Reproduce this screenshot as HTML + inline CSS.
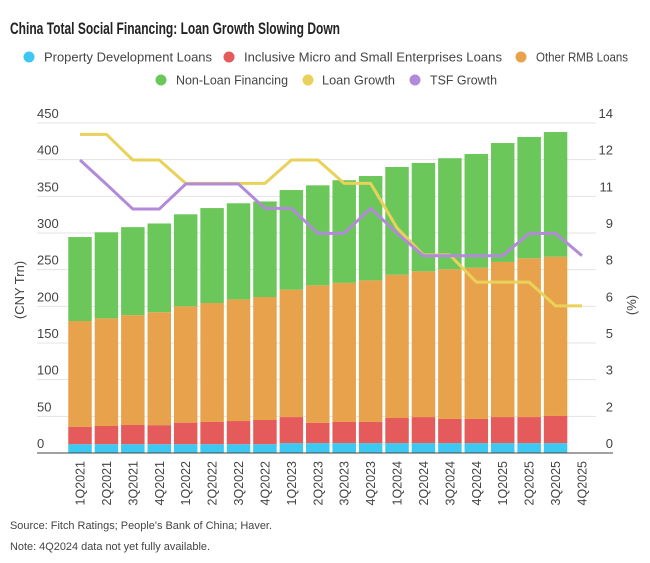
<!DOCTYPE html>
<html><head><meta charset="utf-8"><style>
html,body{margin:0;padding:0;background:#fff;}
svg{display:block;font-family:"Liberation Sans",sans-serif;}
</style></head><body>
<svg id="chart" width="650" height="563" viewBox="0 0 650 563">
<text x="10" y="34" font-size="16.5" font-weight="bold" fill="#222" textLength="330" lengthAdjust="spacingAndGlyphs">China Total Social Financing: Loan Growth Slowing Down</text>
<g font-size="13" fill="#444">
<g><circle cx="29" cy="57" r="5.5" fill="#3cc8f0"/><text x="44" y="61.5" textLength="168" lengthAdjust="spacingAndGlyphs">Property Development Loans</text></g>
<g><circle cx="229" cy="57" r="5.5" fill="#e55a5a"/><text x="244" y="61.5" textLength="258" lengthAdjust="spacingAndGlyphs">Inclusive Micro and Small Enterprises Loans</text></g>
<g><circle cx="521" cy="57" r="5.5" fill="#e8a24c"/><text x="536" y="61.5" textLength="92" lengthAdjust="spacingAndGlyphs">Other RMB Loans</text></g>
<g><circle cx="161" cy="80" r="5.5" fill="#6cc75a"/><text x="176" y="84.5" textLength="112" lengthAdjust="spacingAndGlyphs">Non-Loan Financing</text></g>
<g><circle cx="308" cy="80" r="5.5" fill="#e8d25a"/><text x="322" y="84.5" textLength="73" lengthAdjust="spacingAndGlyphs">Loan Growth</text></g>
<g><circle cx="415" cy="80" r="5.5" fill="#b28ad9"/><text x="430" y="84.5" textLength="67" lengthAdjust="spacingAndGlyphs">TSF Growth</text></g>
</g>
<g id="grid"></g><g id="bars"></g><g id="lines"></g><g id="axes"></g>
<text transform="translate(24,290) rotate(-90)" text-anchor="middle" font-size="13" fill="#444">(CNY Trn)</text>
<text transform="translate(636,305) rotate(-90)" text-anchor="middle" font-size="13" fill="#444">(%)</text>
<text x="10" y="529" font-size="11" fill="#444" textLength="262" lengthAdjust="spacingAndGlyphs">Source: Fitch Ratings; People's Bank of China; Haver.</text>
<text x="10" y="550" font-size="11" fill="#444" textLength="200" lengthAdjust="spacingAndGlyphs">Note: 4Q2024 data not yet fully available.</text>
</svg>
<script>
const categories=["1Q2021","2Q2021","3Q2021","4Q2021","1Q2022","2Q2022","3Q2022","4Q2022","1Q2023","2Q2023","3Q2023","4Q2023","1Q2024","2Q2024","3Q2024","4Q2024","1Q2025","2Q2025","3Q2025","4Q2025"];
const propertyTop=[12,12,12,12,12,12,12,12,13.5,13.5,13.5,13.5,13.5,13.5,13.5,13.5,13.5,13.5,13.5];
const inclusiveTop=[35.5,36.8,38.2,38,41.4,42.3,43.6,45,49,41,42.3,42.3,47.7,49,46.4,46.4,49,49,50.5];
const otherRmbTop=[180,183.6,188,192,200,204.5,209.5,212.7,222.7,228.6,232,235.4,243,247.7,250.5,252.7,260.5,265.5,267.7];
const totalTop=[294.5,301,308,313,325.5,334,340.5,343,358.6,365,372,377.7,390,395.5,402,407.7,422.7,431,437.7];
const loanGrowth=[13.52,13.52,12.43,12.43,11.44,11.44,11.44,11.44,12.43,12.43,11.44,11.44,9.55,8.4,8.4,7.25,7.25,7.25,6.24,6.24];
const tsfGrowth=[12.43,11.4,10.35,10.35,11.41,11.41,11.41,10.38,10.38,9.32,9.32,10.38,9.33,8.37,8.37,8.37,8.37,9.32,9.32,8.37];
const leftTicks=[0,50,100,150,200,250,300,350,400,450];
const rightTickLabels=["0","2","3","5","6","8","9","11","12","14"];

const NS="http://www.w3.org/2000/svg";
const y0=453,yTop=123,x0=80,step=26.42,bw=23.5;
const yL=v=>y0-(v/450)*(y0-yTop);
const yR=v=>y0-(v/14)*(y0-yTop);
const xC=i=>x0+i*step;
function mk(tag,attrs,parent){const e=document.createElementNS(NS,tag);for(const k in attrs)e.setAttribute(k,attrs[k]);parent.appendChild(e);return e;}
const grid=document.getElementById('grid'),bars=document.getElementById('bars'),lines=document.getElementById('lines'),axes=document.getElementById('axes');
leftTicks.forEach((t,i)=>{
  const y=yL(t);
  if(t>0){const g=mk('line',{x1:37,x2:596,y1:y,y2:y,stroke:'#e3e3e3','stroke-width':1},grid);
  
  }
  const tl=mk('text',{x:37,y:y-5,'font-size':13,fill:'#444'},axes);tl.textContent=t;
  
  
  const tr=mk('text',{x:613,y:y-5,'font-size':13,fill:'#444','text-anchor':'end'},axes);tr.textContent=rightTickLabels[i];
  
  
});
const segs=[[0,propertyTop,'#3cc8f0','bar-property'],[propertyTop,inclusiveTop,'#e55a5a','bar-inclusive'],[inclusiveTop,otherRmbTop,'#e8a24c','bar-other-rmb'],[otherRmbTop,totalTop,'#6cc75a','bar-non-loan']];
totalTop.forEach((_,i)=>{
  segs.forEach(s=>{
    const lo=s[0]===0?0:s[0][i],hi=s[1][i];
    const r=mk('rect',{x:xC(i)-bw/2,y:yL(hi),width:bw,height:yL(lo)-yL(hi),fill:s[2]},bars);
    
    
  });
});
function line(arr,color,name){
  const p=mk('polyline',{points:arr.map((v,i)=>xC(i)+','+yR(v)).join(' '),fill:'none',stroke:color,'stroke-width':3,'stroke-linejoin':'round'},lines);
  
  
}
line(loanGrowth,'#e8d25a','loan-growth-line');
line(tsfGrowth,'#b28ad9','tsf-growth-line');
const ax=mk('line',{x1:37,x2:613,y1:y0,y2:y0,stroke:'#444','stroke-width':1},axes);


categories.forEach((c,i)=>{
  const t=mk('text',{transform:'translate('+(xC(i)+4.5)+',461) rotate(-90)','text-anchor':'end','font-size':12.5,fill:'#444'},axes);
  t.textContent=c;
  
  
});
</script>
</body></html>
